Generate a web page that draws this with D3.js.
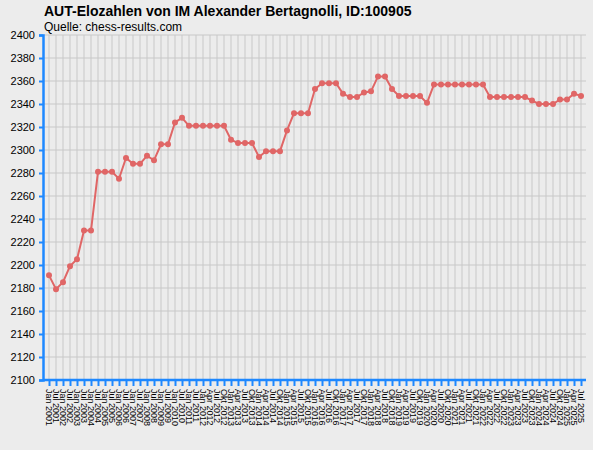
<!DOCTYPE html>
<html><head><meta charset="utf-8">
<script src="https://cdn.jsdelivr.net/npm/d3@7"></script>
<style>body{margin:0;background:#ececec}svg{display:block}</style></head>
<body><svg id="c" width="593" height="450"></svg>
<script>
const title = "AUT-Elozahlen von IM Alexander Bertagnolli, ID:100905";
const subtitle = "Quelle: chess-results.com";
const labels = [];
for (let y = 2001; y <= 2011; y++) { labels.push("Jan " + y, "Jul " + y); }
for (let y = 2012; y <= 2025; y++) { for (const m of ["Jan","Apr","Jul","Okt"]) { if (labels.length < 77) labels.push(m + " " + y); } }
const values = [2191,2179,2185,2199,2205,2230,2230,2281,2281,2281,2275,2293,2288,2288,2295,2291,2305,2305,2324,2328,
2321,2321,2321,2321,2321,2321,2309,2306,2306,2306,2294,2299,2299,2299,2317,2332,2332,2332,2353,2358,
2358,2358,2349,2346,2346,2350,2351,2364,2364,2353,2347,2347,2347,2347,2341,2357,2357,2357,2357,2357,
2357,2357,2357,2346,2346,2346,2346,2346,2346,2343,2340,2340,2340,2344,2344,2349,2347];
const yTicks = d3.range(2100, 2401, 20);
const FONT = "Liberation Sans, Arial, sans-serif";

const svg = d3.select("#c");
const L = 43, R = 586, T = 35, B = 380;
const x = d3.scalePoint().domain(d3.range(labels.length)).range([49, 581]);
const y = d3.scaleLinear().domain([2100, 2400]).range([B, T]);

svg.append("rect").attr("width",593).attr("height",450).attr("fill","#ececec");
const g = svg.append("g");
g.selectAll(".vg").data(d3.range(labels.length)).join("line")
 .attr("x1", d => x(d)).attr("x2", d => x(d)).attr("y1", T).attr("y2", B)
 .attr("stroke", "#c8c8c8").attr("stroke-width", 1);
g.selectAll(".hg").data(yTicks).join("line")
 .attr("x1", L).attr("x2", R).attr("y1", d => y(d)).attr("y2", d => y(d))
 .attr("stroke", "#c8c8c8").attr("stroke-width", 1);

const yAxis = svg.append("g").attr("transform", `translate(${L},0)`)
 .call(d3.axisLeft(y).tickValues(yTicks).tickSize(4).tickFormat(d3.format("d")));
yAxis.select(".domain").attr("stroke", "#1e88ff").attr("stroke-width", 2.5);
yAxis.selectAll(".tick line").attr("stroke", "#1e88ff").attr("stroke-width", 2);
yAxis.selectAll("text").attr("font-family", FONT).attr("font-size", 11).attr("fill", "#000").attr("dx", -1);

const xAxis = svg.append("g").attr("transform", `translate(0,${B})`)
 .call(d3.axisBottom(x).tickSize(6).tickFormat(i => labels[i]));
xAxis.select(".domain").attr("stroke", "#1e88ff").attr("stroke-width", 2.5).attr("d", `M${L},0H${R}`);
xAxis.selectAll(".tick line").attr("stroke", "#1e88ff").attr("stroke-width", 2);
xAxis.selectAll("text").attr("font-family", FONT).attr("font-size", 9).attr("fill", "#000")
 .attr("transform", "rotate(90)").attr("text-anchor", "start").attr("x", 9).attr("y", 0).attr("dy", "0.35em");

const line = d3.line().x((d, i) => x(i)).y(d => y(d));
svg.append("path").datum(values).attr("d", line).attr("fill", "none")
 .attr("stroke", "#e06666").attr("stroke-width", 2);
svg.selectAll(".pt").data(values).join("circle")
 .attr("cx", (d, i) => x(i)).attr("cy", d => y(d)).attr("r", 3).attr("fill", "#e06666");

svg.append("text").attr("x", 44).attr("y", 16).text(title)
 .attr("font-family", FONT).attr("font-weight", "bold").attr("font-size", 14);
svg.append("text").attr("x", 44).attr("y", 31).text(subtitle)
 .attr("font-family", FONT).attr("font-size", 12);
</script></body></html>
